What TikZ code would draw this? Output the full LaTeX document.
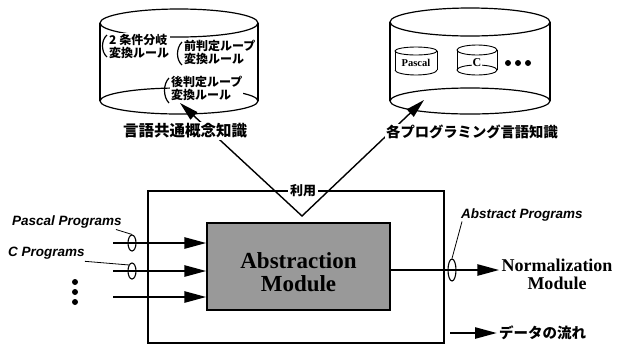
\documentclass[tikz,border=0pt]{standalone}
\usepackage{fontspec}
\setmainfont{Liberation Serif}
\newfontfamily\jp{Noto Sans CJK JP}
\newfontfamily\labsans{Liberation Sans}
\usetikzlibrary{arrows.meta,shapes.geometric}

\begin{document}
\begin{tikzpicture}[x=1pt,y=-1pt,
  thinl/.style={line width=1.2pt},
  flow/.style={line width=2.6pt, -{Triangle[length=22pt,width=11pt]}},
  jplab/.style={font=\jp\bfseries\fontsize{15.5}{15.5}\selectfont, fill=white, inner sep=1.5pt},
  rtext/.style={font=\jp\bfseries\fontsize{12}{13}\selectfont, fill=white, inner sep=1pt, align=left, anchor=west},
  prog/.style={font=\labsans\bfseries\itshape\fontsize{13.5}{14}\selectfont, inner sep=0pt, anchor=west},
  oval/.style={draw, ellipse, line width=1.1pt, inner sep=0pt, minimum width=8pt},
  leader/.style={line width=0.8pt},
  bigtxt/.style={font=\bfseries\fontsize{23}{23}\selectfont, align=center},
]
\useasboundingbox (0,0) rectangle (623,349);

% ---- left cylinder: common knowledge
\draw[thinl] (100,23) -- (100,101) (258,23) -- (258,101);
\draw[thinl] (179,23) ellipse [x radius=79pt, y radius=14pt];
\draw[thinl] (179,101) ellipse [x radius=79pt, y radius=13pt];
\node[rtext] (r1) at (108,46.5) {2 条件分岐\\変換ルール};
\node[rtext] (r2) at (183,52.5) {前判定ループ\\変換ルール};
\node[rtext] (r3) at (170,88.5) {後判定ループ\\変換ルール};
\draw[thinl] (107,35) .. controls (101,40) and (101,52) .. (107,57);
\draw[thinl] (182,42) .. controls (176,48) and (176,60) .. (182,65);
\draw[thinl] (169,78) .. controls (163,84) and (163,97) .. (169,103);

% ---- right cylinder: language knowledge
\draw[thinl] (390,22) -- (390,101) (550,22) -- (550,101);
\draw[thinl] (470,22) ellipse [x radius=80pt, y radius=14pt];
\draw[thinl] (470,101) ellipse [x radius=80pt, y radius=13pt];
% small cylinders
\draw[line width=0.9pt] (395,51) -- (395,70) (437,51) -- (437,70);
\draw[line width=0.9pt] (416,51) ellipse [x radius=21pt, y radius=4pt];
\draw[line width=0.9pt] (395,70) arc[start angle=180, end angle=360, x radius=21pt, y radius=5pt];
\node[font=\bfseries\fontsize{10.5}{11}\selectfont, fill=white, inner sep=1pt] (pas) at (416,63) {Pascal};
\draw[line width=0.9pt] (457,50) -- (457,70) (497,50) -- (497,70);
\draw[line width=0.9pt] (477,50) ellipse [x radius=20pt, y radius=5pt];
\draw[line width=0.9pt] (477,70) ellipse [x radius=20pt, y radius=5pt];
\node[font=\bfseries\fontsize{12}{12}\selectfont, fill=white, inner sep=1pt] (cl) at (477,63) {C};
\fill (508,63) circle[radius=3pt] (518,63) circle[radius=3pt] (528,63) circle[radius=3pt];

% ---- usage V
\coordinate (ltip) at (180,103);
\coordinate (vtx) at (302,216);
\coordinate (rtip) at (424,100);
\draw[line width=1.4pt, {Triangle[length=19pt,width=10pt]}-{Triangle[length=19pt,width=10pt]}] (ltip) -- (vtx) -- (rtip);
\node[jplab] (lk) at (185,131) {言語共通概念知識};
\node[jplab, font=\jp\bfseries\fontsize{14.3}{14.3}\selectfont] (pk) at (472,132) {各プログラミング言語知識};

% ---- system box
\node[draw, thinl, minimum width=296pt, minimum height=152pt, inner sep=0pt] (sys) at (296,267) {};
\node[fill=white, font=\jp\bfseries\fontsize{13}{13}\selectfont, inner sep=2pt] (use) at (303,191) {利用};
\node[draw, thinl, fill=black!40, minimum width=183pt, minimum height=87pt, inner sep=0pt] (abs) at (298.5,266.5) {};
\node[bigtxt] (abst) at (298.5,272.5) {Abstraction\\Module};

% ---- inputs
\coordinate (i1) at (113,243);
\coordinate (i2) at (113,271);
\coordinate (i3) at (113,297);
\draw[flow] (i1) -- (i1 -| abs.west);
\draw[flow] (i2) -- (i2 -| abs.west);
\draw[flow] (i3) -- (i3 -| abs.west);
\node[oval, minimum height=16pt] (o1) at (132,243) {};
\node[oval, minimum height=16pt] (o2) at (132,271) {};
\node[prog] (pp) at (12,222) {Pascal Programs};
\node[prog] (cp) at (8,253) {C Programs};
\draw[leader] ([xshift=-6pt,yshift=-1pt]pp.south east) -- (o1.north);
\draw[leader] ([yshift=-2pt]cp.south east) -- (o2.north west);
\fill (75,282) circle[radius=3pt] (75,292) circle[radius=3pt] (75,302) circle[radius=3pt];

% ---- output
\node[font=\bfseries\fontsize{18}{18}\selectfont, align=center, inner sep=2pt] (norm) at (557,274) {Normalization\\Module};
\node[oval, minimum height=22pt] (o3) at (452,270) {};
\draw[flow] (o3 -| abs.east) -- (o3 -| norm.west);
\node[prog] (ap) at (461,215) {Abstract Programs};
\draw[leader] ([xshift=1pt]ap.south west) -- (o3.north);

% ---- legend
\coordinate (lg) at (450,333);
\node[font=\jp\bfseries\fontsize{14.5}{14.5}\selectfont, anchor=west, inner sep=2pt] (lgt) at (497,333) {データの流れ};
\draw[flow] (lg) -- (lgt.west);
\end{tikzpicture}
\end{document}
